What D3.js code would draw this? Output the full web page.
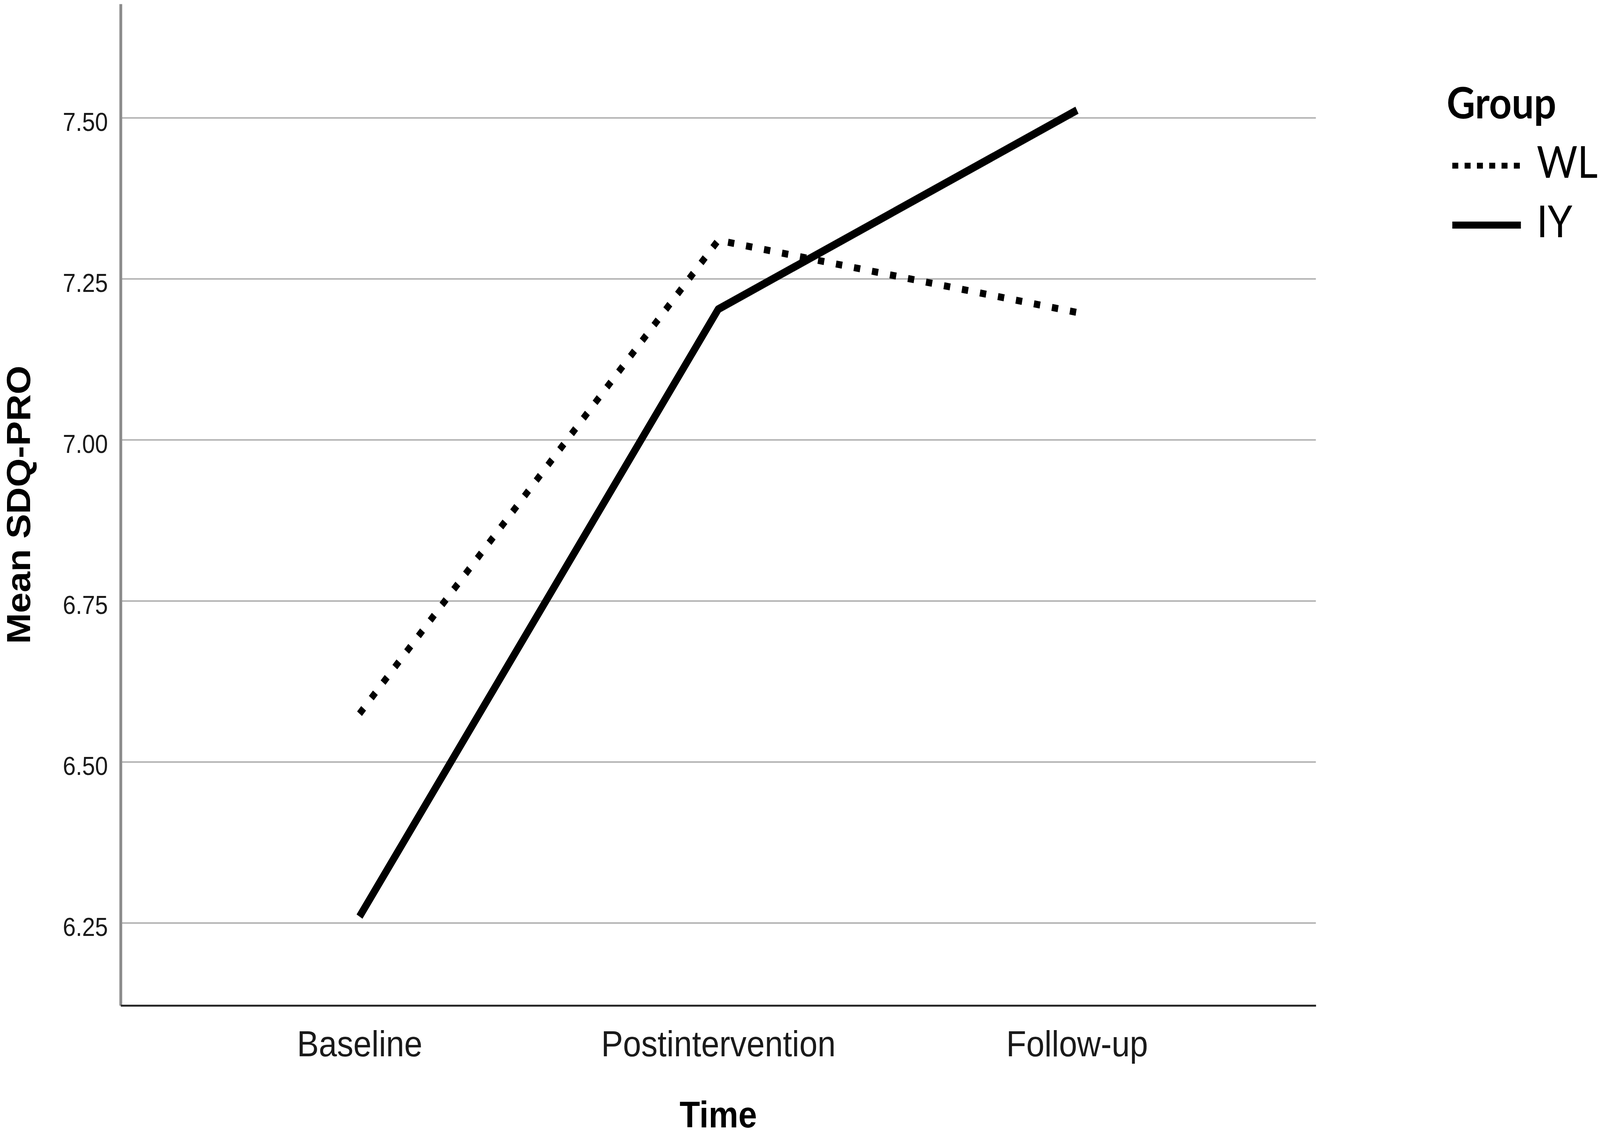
<!DOCTYPE html>
<html lang="en">
<head>
    <meta charset="UTF-8">
    <title>Mean SDQ-PRO by Time and Group</title>
    <script src="https://d3js.org/d3.v7.min.js"></script>
    <style>
        html, body {
            margin: 0;
            padding: 0;
            overflow: hidden;
            background: #fff;
        }
        svg {
            display: block;
        }
        .tick-label {
            font-family: "Liberation Sans", Arial, sans-serif;
            fill: #1a1a1a;
        }
        .axis-title {
            font-family: "Liberation Sans", Arial, sans-serif;
            font-weight: bold;
            fill: #000;
        }
        .legend text {
            font-family: Lato, "Open Sans", sans-serif;
            fill: #000;
        }
    </style>
</head>
<body>
    <!-- drawn in a 4550x2907 frame, stretched to whatever the window really is -->
    <svg id="chart" viewBox="0 0 4550 2907" preserveAspectRatio="none"></svg>

    <script>
        const width = 4550, height = 2907;

        // data
        const timePoints = ["Baseline", "Postintervention", "Follow-up"];
        const groups = ["WL", "IY"];
        const wlMeans = [6.575, 7.31, 7.198];
        const iyMeans = [6.26, 7.203, 7.512];
        const yTicks = [6.25, 6.50, 6.75, 7.00, 7.25, 7.50];

        const plotLeft = 343, plotRight = 3742, plotTop = 10, plotBottom = 2573;

        const svg = d3.select("#chart")
            .attr("width", window.innerWidth)
            .attr("height", window.innerHeight);

        const x = d3.scalePoint()
            .domain(timePoints)
            .range([plotLeft, plotRight])
            .padding(0.666);

        const y = d3.scaleLinear()
            .domain([6.122, 7.677])
            .range([plotBottom, plotTop]);

        // gridlines
        svg.append("g")
            .selectAll("line")
            .data(yTicks)
            .join("line")
            .attr("x1", plotLeft)
            .attr("x2", plotRight)
            .attr("y1", d => y(d))
            .attr("y2", d => y(d))
            .attr("stroke", "#b4b4b4")
            .attr("stroke-width", 4);

        // y axis
        const yAxis = svg.append("g")
            .attr("transform", `translate(${plotLeft},0)`)
            .call(d3.axisLeft(y).tickValues(yTicks).tickSize(0).tickSizeOuter(0)
                .tickPadding(36).tickFormat(d3.format(".2f")));
        yAxis.select(".domain").attr("stroke", "#8c8c8c").attr("stroke-width", 8);
        yAxis.selectAll("text")
            .attr("class", "tick-label")
            .attr("font-size", 66)
            .attr("dy", "0.49em");

        // x axis
        const xAxis = svg.append("g")
            .attr("transform", `translate(0,${plotBottom})`)
            .call(d3.axisBottom(x).tickSize(0).tickSizeOuter(0).tickPadding(64));
        xAxis.select(".domain").attr("stroke", "#2a2a2a").attr("stroke-width", 5);
        xAxis.selectAll("text")
            .attr("class", "tick-label")
            .attr("font-size", 93);

        // axis titles
        svg.append("text")
            .attr("class", "axis-title")
            .attr("x", (plotLeft + plotRight) / 2)
            .attr("y", 2885)
            .attr("text-anchor", "middle")
            .attr("font-size", 95)
            .text("Time");

        svg.append("text")
            .attr("class", "axis-title")
            .attr("transform", `translate(85,${(plotTop + plotBottom) / 2}) rotate(-90)`)
            .attr("text-anchor", "middle")
            .attr("font-size", 95)
            .text("Mean SDQ-PRO");

        // lines
        const line = d3.line()
            .x((d, i) => x(timePoints[i]))
            .y(d => y(d));

        const styles = {
            WL: { width: 18, dash: "18 34" },
            IY: { width: 20, dash: null }
        };
        const seriesData = { WL: wlMeans, IY: iyMeans };

        groups.forEach(g => {
            svg.append("path")
                .datum(seriesData[g])
                .attr("d", line)
                .attr("fill", "none")
                .attr("stroke", "#000")
                .attr("stroke-width", styles[g].width)
                .attr("stroke-linejoin", "round")
                .attr("stroke-dasharray", styles[g].dash);
        });

        // legend
        const legend = svg.append("g").attr("class", "legend");
        legend.append("text")
            .attr("x", 4114)
            .attr("y", 303)
            .attr("font-size", 112)
            .attr("font-weight", "bold")
            .text("Group");

        const rows = legend.selectAll(".row")
            .data(groups)
            .join("g")
            .attr("class", "row")
            .attr("transform", (d, i) => `translate(0,${i * 152})`);

        rows.append("line")
            .attr("x1", 4130)
            .attr("x2", 4325)
            .attr("y1", 424)
            .attr("y2", 424)
            .attr("stroke", "#000")
            .attr("stroke-width", d => d === "WL" ? 15 : 18)
            .attr("stroke-dasharray", d => d === "WL" ? "17 18" : null);

        rows.append("text")
            .attr("x", 4370)
            .attr("y", 455)
            .attr("font-size", 112)
            .text(d => d);
    </script>
</body>
</html>
